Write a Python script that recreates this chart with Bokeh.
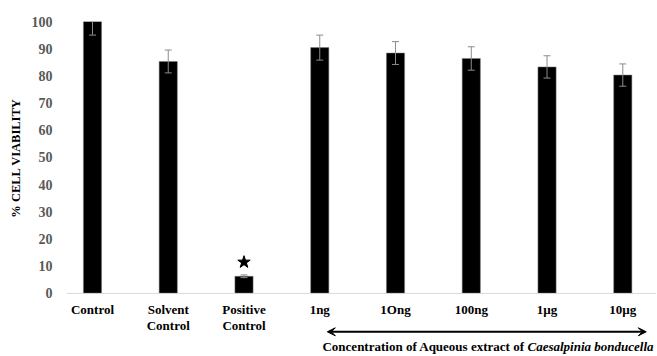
from bokeh.plotting import figure
from bokeh.layouts import column
from bokeh.models import (ColumnDataSource, Whisker, TeeHead, Arrow, VeeHead, Label,
                          FixedTicker, Range1d, Span)
from bokeh.core.properties import value
from bokeh.embed import file_html
from bokeh.resources import INLINE

categories = ["Control", "Solvent\nControl", "Positive\nControl", "1ng", "1Ong", "100ng", "1\u00b5g", "10\u00b5g"]
viability = [100, 85.3, 6.3, 90.4, 88.4, 86.4, 83.3, 80.3]
error = [5.0, 4.2, 0.5, 4.6, 4.2, 4.3, 4.1, 4.1]
star_category = [2]
star_value = [11.5]
y_ticks = [0, 10, 20, 30, 40, 50, 60, 70, 80, 90, 100]

xs = list(range(len(categories)))
src = ColumnDataSource(dict(
    x=xs, top=viability,
    upper=[v + e for v, e in zip(viability, error)],
    lower=[v - e for v, e in zip(viability, error)],
))

font = "Liberation Serif"

p = figure(width=656, height=301, output_backend="svg", toolbar_location=None,
           x_range=Range1d(-0.343, 7.445), y_range=Range1d(-0.4, 100),
           min_border_left=66, min_border_right=0, min_border_top=21, min_border_bottom=7)
p.outline_line_color = None
p.xgrid.visible = False
p.ygrid.visible = False
p.xaxis.visible = False

# category axis line at zero
p.add_layout(Span(location=0, dimension="width", line_color="#d9d9d9", line_width=1))

p.vbar(x="x", top="top", width=0.24, source=src, fill_color="black",
       line_color="#7f7f7f", line_width=0.5)

w = Whisker(base="x", upper="upper", lower="lower", source=src, level="overlay",
            line_color="#8c8c8c", line_width=1,
            upper_head=TeeHead(size=7, line_color="#8c8c8c", line_width=1),
            lower_head=TeeHead(size=7, line_color="#8c8c8c", line_width=1))
p.add_layout(w)

p.scatter(star_category, star_value, marker="star", size=13, fill_color="black", line_color="black")

# y axis
p.yaxis.ticker = FixedTicker(ticks=y_ticks)
p.yaxis.major_tick_line_color = None
p.yaxis.minor_tick_line_color = None
p.yaxis.axis_line_color = None
p.yaxis.major_label_text_font = font
p.yaxis.major_label_text_font_style = "bold"
p.yaxis.major_label_text_font_size = "14px"
p.yaxis.major_label_text_color = "#595959"
p.yaxis.major_label_standoff = 8
p.yaxis.axis_label = "% CELL VIABILITY"
p.yaxis.axis_label_text_font = font
p.yaxis.axis_label_text_font_style = "bold"
p.yaxis.axis_label_text_font_size = "12.5px"
p.yaxis.axis_label_text_color = "black"
p.yaxis.axis_label_standoff = 6

# strip below: category labels, double arrow and caption
p2 = figure(width=656, height=54, output_backend="svg", toolbar_location=None,
            x_range=p.x_range, y_range=Range1d(54, 0),
            min_border_left=66, min_border_right=0, min_border_top=0, min_border_bottom=0)
p2.outline_line_color = None
p2.axis.visible = False
p2.grid.visible = False
p2.text(x=xs, y=0, text=categories, text_font=value(font), text_font_style="bold",
        text_font_size="13px", text_color="black", text_align="center", text_baseline="top",
        text_line_height=1.12)
p2.add_layout(Arrow(x_start=3.1, x_end=7.31, y_start=30.3, y_end=30.3,
                    line_width=2, line_color="black",
                    start=VeeHead(size=8, fill_color="black", line_color="black"),
                    end=VeeHead(size=8, fill_color="black", line_color="black")))
p2.add_layout(Label(x=3.036, y=45, text="Concentration of Aqueous extract of ",
                    text_font=font, text_font_style="bold", text_font_size="13px",
                    text_baseline="middle", text_align="left", text_color="black"))
p2.add_layout(Label(x=5.742, y=45, text="Caesalpinia bonducella",
                    text_font=font, text_font_style="bold italic", text_font_size="13px",
                    text_baseline="middle", text_align="left", text_color="black"))

layout = column(p, p2, spacing=0)
open("out.html", "w").write(file_html(layout, INLINE))
